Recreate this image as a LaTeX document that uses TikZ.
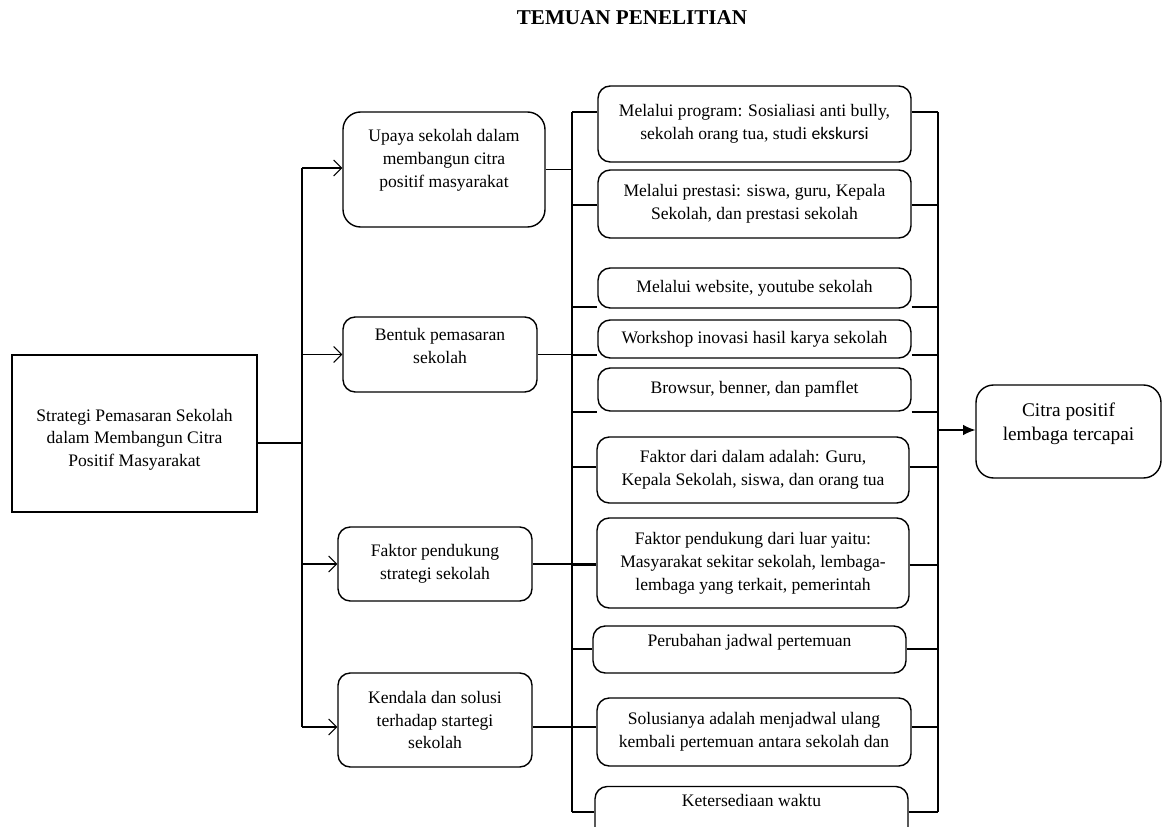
\documentclass[tikz,border=0pt]{standalone}
\usepackage{fontspec}
\setmainfont{Liberation Serif}
\newfontfamily\calibri{Carlito}
\usetikzlibrary{arrows.meta}
\newlength\px
\setlength\px{0.02cm}

\begin{document}
\begin{tikzpicture}
[
x=0.02cm, y=-0.02cm,
line width=0.6pt,
every node/.style={align=center, font=\fontsize{10}{13}\selectfont, inner sep=2pt},
kotak/.style={draw, line width=0.8pt, rounded corners=7pt},
temuan/.style={kotak, minimum width=313\px},
panah/.style={-{Straight Barb[length=4.5pt,width=9pt]}}
]
\useasboundingbox (0,0) rectangle (1163,827);

\node (judul) at (632,18) {\fontsize{12}{14}\selectfont\bfseries TEMUAN PENELITIAN};

% akar
\node[draw, line width=0.8pt, minimum width=245\px, minimum height=157\px, text height=40pt] (strategi) at (134.5,433.5)
  {Strategi Pemasaran Sekolah\\ dalam Membangun Citra\\ Positif Masyarakat};

% kolom tengah
\node[kotak, rounded corners=10pt, minimum width=202\px, minimum height=115\px, text depth=13pt] (upaya) at (444,169.5)
  {Upaya sekolah dalam\\ membangun citra\\ positif masyarakat};
\node[kotak, minimum width=194\px, minimum height=75\px, text depth=10pt] (bentuk) at (440,354.5)
  {Bentuk pemasaran\\ sekolah};
\node[kotak, minimum width=194\px, minimum height=74\px] (faktor) at (435,564)
  {Faktor pendukung\\ strategi sekolah};
\node[kotak, minimum width=194\px, minimum height=94\px] (kendala) at (435,720)
  {Kendala dan solusi\\ terhadap startegi\\ sekolah};

% kolom kanan
\node[temuan, minimum height=76\px] (program) at (754.5,124)
  {Melalui program: Sosialiasi anti bully,\\ sekolah orang tua, studi {\calibri ekskursi}};
\node[temuan, minimum height=68\px] (prestasi) at (754.5,204)
  {Melalui prestasi: siswa, guru, Kepala\\ Sekolah, dan prestasi sekolah};
\node[temuan, minimum height=40\px] (web) at (754.5,288)
  {Melalui website, youtube sekolah};
\node[temuan, minimum height=38\px] (workshop) at (754.5,339)
  {Workshop inovasi hasil karya sekolah};
\node[temuan, minimum height=43\px] (brosur) at (754.5,389.5)
  {Browsur, benner, dan pamflet};
\node[temuan, minimum width=312\px, minimum height=66\px] (dalam) at (753,470)
  {Faktor dari dalam adalah: Guru,\\ Kepala Sekolah, siswa, dan orang tua};
\node[temuan, minimum width=312\px, minimum height=90\px] (luar) at (753,563)
  {Faktor pendukung dari luar yaitu:\\ Masyarakat sekitar sekolah, lembaga-\\ lembaga yang terkait, pemerintah};
\node[temuan, minimum height=47\px, text depth=10pt] (ubah) at (749.5,649.5)
  {Perubahan jadwal pertemuan};
\node[temuan, minimum width=314\px, minimum height=68\px] (solusi) at (754,732)
  {Solusianya adalah menjadwal ulang\\ kembali pertemuan antara sekolah dan};
\node[temuan, minimum height=53\px, text depth=14pt] (waktu) at (751.5,813)
  {Ketersediaan waktu};

% hasil
\node[kotak, rounded corners=10pt, minimum width=185\px, minimum height=93\px, text depth=11pt, font=\fontsize{11}{14}\selectfont] (citra) at (1068.5,431.5)
  {Citra positif\\ lembaga tercapai};

% garis kiri
\coordinate (cabang) at (302,443);
\coordinate (kiri1) at (302,168);
\coordinate (kiri2) at (302,727);
\draw (strategi.east |- cabang) -- (cabang);
\draw (kiri1) -- (kiri2);
\draw[panah] (kiri1) -- (kiri1 -| upaya.west);
\draw[panah] (bentuk.west -| kiri1) -- (bentuk.west);
\draw[panah] (faktor.west -| kiri1) -- (faktor.west);
\draw[panah] (kiri2) -- (kiri2 -| kendala.west);

% garis tengah dan kanan
\coordinate (tengah1) at (572,112);
\coordinate (tengah2) at (572,812);
\coordinate (kanan1) at (938,112);
\coordinate (kanan2) at (938,812);
\draw (tengah1) -- (tengah2);
\draw (kanan1) -- (kanan2);
\draw (upaya.east) -- (upaya.east -| tengah1);
\draw (bentuk.east) -- (bentuk.east -| workshop.west);
\draw (faktor.east) -- (faktor.east -| luar.west);
\draw (kendala.east |- kiri2) -- (kiri2 -| solusi.west);
\foreach \n/\y in {program/112, prestasi/205, web/307, workshop/355, brosur/412,
                   dalam/467, luar/565, ubah/649, solusi/727, waktu/812}
{
  \path (572,\y) coordinate (l\n) (938,\y) coordinate (r\n);
  \draw (l\n) -- (l\n -| \n.west);
  \draw (\n.east |- r\n) -- (r\n);
}
\coordinate (keluar) at (938,430);
\draw[-{Latex[length=7pt,width=6pt]}] (keluar) -- (keluar -| citra.west);
\end{tikzpicture}
\end{document}
